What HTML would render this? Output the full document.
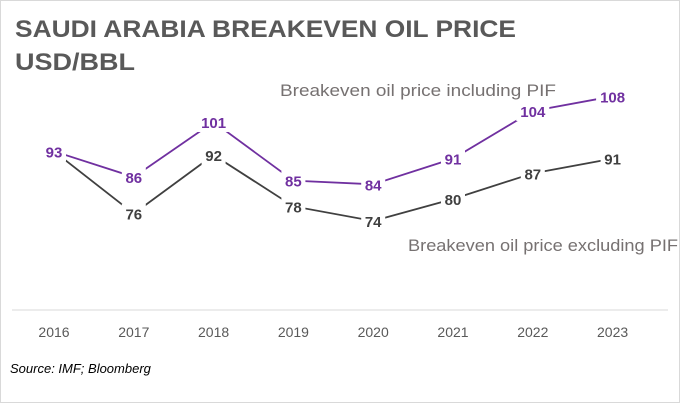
<!DOCTYPE html>
<html><head><meta charset="utf-8"><style>
html,body{margin:0;padding:0;background:#fff}
svg{display:block;font-family:"Liberation Sans",sans-serif}
</style></head><body>
<svg width="680" height="403" viewBox="0 0 680 403">
<rect x="0.5" y="0.5" width="679" height="402" fill="#fff" stroke="#d9d9d9"/>
<text x="15" y="37" font-size="24" font-weight="bold" fill="#595959" textLength="501" lengthAdjust="spacingAndGlyphs">SAUDI ARABIA BREAKEVEN OIL PRICE</text>
<text x="15" y="70" font-size="24" font-weight="bold" fill="#595959" textLength="120" lengthAdjust="spacingAndGlyphs">USD/BBL</text>
<line x1="12" y1="310" x2="668" y2="310" stroke="#d9d9d9" stroke-width="1"/>
<g id="lines"></g>
<g id="labels"></g>
<g id="xticks"></g>
<text x="280" y="96" font-size="17" fill="#767171" textLength="276" lengthAdjust="spacingAndGlyphs">Breakeven oil price including PIF</text>
<text x="408" y="251" font-size="17" fill="#767171" textLength="270" lengthAdjust="spacingAndGlyphs">Breakeven oil price excluding PIF</text>
<text x="10" y="373" font-size="13" font-style="italic" fill="#000">Source: IMF; Bloomberg</text>
</svg>
<script>
const categories = ["2016","2017","2018","2019","2020","2021","2022","2023"];
const includingPIF = [93,86,101,85,84,91,104,108];
const excludingPIF = [93,76,92,78,74,80,87,91];
const NS="http://www.w3.org/2000/svg";
function x(i){return 54+i*79.8;}
function y(v){return 309-(v-50)*3.667;}
function mk(t,a){const e=document.createElementNS(NS,t);for(const k in a)e.setAttribute(k,a[k]);return e;}
const L=document.getElementById('lines'),B=document.getElementById('labels'),X=document.getElementById('xticks');
function series(vals,color,name){
  const p=mk('polyline',{points:vals.map((v,i)=>x(i)+','+y(v)).join(' '),fill:'none',stroke:color,'stroke-width':'1.8'});
  
  
  L.appendChild(p);
  vals.forEach((v,i)=>{
    const w=String(v).length*9+6;
    const r=mk('rect',{x:x(i)-w/2,y:y(v)-10,width:w,height:20,fill:'#fff'});
    
    
    B.appendChild(r);
    const t=mk('text',{x:x(i),y:y(v)+6,'text-anchor':'middle','font-size':'15','font-weight':'bold',fill:color});
    t.textContent=v;
    
    
    B.appendChild(t);
  });
}
series(excludingPIF,'#404040','excluding-pif');
series(includingPIF,'#7030a0','including-pif');
categories.forEach((c,i)=>{
  const t=mk('text',{x:x(i),y:337,'text-anchor':'middle','font-size':'14',fill:'#595959'});
  t.textContent=c;
  
  
  X.appendChild(t);
});
</script>
</body></html>
